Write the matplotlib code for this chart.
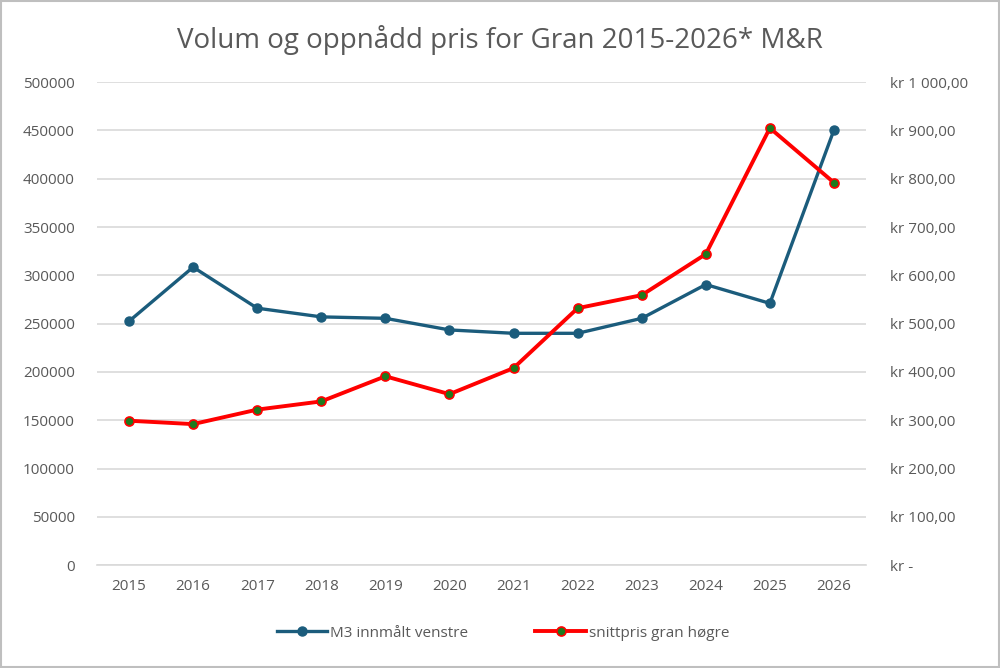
import matplotlib
matplotlib.use("Agg")
import matplotlib.pyplot as plt

years = [2015, 2016, 2017, 2018, 2019, 2020, 2021, 2022, 2023, 2024, 2025, 2026]
volum = [252500, 308500, 266000, 257000, 255500, 243500, 240000, 240000, 255500, 290500, 271000, 450500]
pris = [299, 292, 322, 339, 391, 354, 408, 532, 559, 644, 905, 792]

left_ticks = [0, 50000, 100000, 150000, 200000, 250000, 300000, 350000, 400000, 450000, 500000]
right_ticks = [0, 100, 200, 300, 400, 500, 600, 700, 800, 900, 1000]
right_labels = ["kr -", "kr 100,00", "kr 200,00", "kr 300,00", "kr 400,00", "kr 500,00",
                "kr 600,00", "kr 700,00", "kr 800,00", "kr 900,00", "kr 1 000,00"]

plt.rcParams["font.family"] = ["Open Sans", "DejaVu Sans"]
txt = "#595959"
blue = "#1B5C7C"
red = "#FF0000"
green = "#1E7A1E"

fig = plt.figure(figsize=(10, 6.68), dpi=100)
ax = fig.add_axes([0.097, 0.154, 0.769, 0.723])
ax2 = ax.twinx()

x = list(range(len(years)))
ax.plot(x, volum, color=blue, lw=2.4, marker="o", ms=6.5, mfc=blue, mec=blue,
        label="M3 innmålt venstre", zorder=3)
ax2.plot(x, pris, color=red, lw=2.8, marker="o", ms=6.5, mfc=green, mec=red, mew=1.2,
         label="snittpris gran høgre", zorder=3)

ax.set_ylim(0, 500000)
ax2.set_ylim(0, 1000)
ax.set_xlim(-0.5, len(years) - 0.5)
ax.set_yticks(left_ticks)
ax.set_yticklabels([str(v) for v in left_ticks])
ax.set_xticks(x)
ax.set_xticklabels([str(y) for y in years])
ax.grid(axis="y", color="#D9D9D9", lw=1.2)
ax.set_axisbelow(True)
ax.tick_params(axis="both", length=0, colors=txt, labelsize=11)
ax.tick_params(axis="y", pad=16)
ax.tick_params(axis="x", pad=10)
ax2.set_yticks(right_ticks)
ax2.set_yticklabels(right_labels)
ax2.tick_params(axis="y", length=0, colors=txt, labelsize=11, pad=17)

for a in (ax, ax2):
    for s in a.spines.values():
        s.set_visible(False)
ax.spines["bottom"].set_visible(True)
ax.spines["bottom"].set_color("#D9D9D9")
ax.spines["bottom"].set_linewidth(1.2)

fig.suptitle("Volum og oppnådd pris for Gran 2015-2026* M&R", y=0.962, fontsize=20, color=txt)

h1, l1 = ax.get_legend_handles_labels()
h2, l2 = ax2.get_legend_handles_labels()
fig.legend(h1 + h2, l1 + l2, loc="center", bbox_to_anchor=(0.503, 0.052), ncol=2,
           frameon=False, fontsize=11, labelcolor=txt, columnspacing=4.4, handlelength=3.3,
           handletextpad=0.2)

fig.patches.append(plt.Rectangle((0.001, 0.001), 0.998, 0.998, transform=fig.transFigure,
                                 fill=False, edgecolor="#BFBFBF", lw=1.5))

fig.savefig("out.png", dpi=100)
